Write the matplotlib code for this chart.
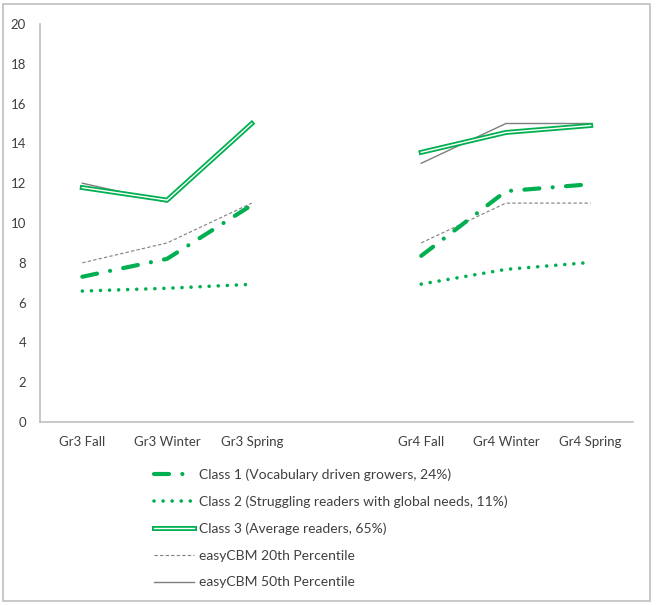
import matplotlib
matplotlib.use('Agg')
import matplotlib.pyplot as plt
import matplotlib.patheffects as pe
from matplotlib.patches import Rectangle

plt.rcParams['font.family'] = 'Lato'

# x categories (blank slot separates grade 3 and grade 4)
categories = ['Gr3 Fall', 'Gr3 Winter', 'Gr3 Spring', '', 'Gr4 Fall', 'Gr4 Winter', 'Gr4 Spring']
gr3_pos = [0, 1, 2]
gr4_pos = [4, 5, 6]

# series values: (grade 3, grade 4)
class1_gr3 = [7.3, 8.2, 10.9]
class1_gr4 = [8.35, 11.6, 11.95]
class2_gr3 = [6.58, 6.72, 6.92]
class2_gr4 = [6.93, 7.67, 8.02]
class3_gr3 = [11.78, 11.15, 15.0]
class3_gr4 = [13.55, 14.55, 14.9]
p20_gr3 = [8.0, 9.0, 11.0]
p20_gr4 = [9.0, 11.0, 11.0]
p50_gr3 = [12.0, 11.05, 15.0]
p50_gr4 = [13.0, 15.0, 15.0]

labels = ['Class 1 (Vocabulary driven growers, 24%)',
          'Class 2 (Struggling readers with global needs, 11%)',
          'Class 3 (Average readers, 65%)',
          'easyCBM 20th Percentile',
          'easyCBM 50th Percentile']

green = '#00B050'
gray = '#7f7f7f'

fig = plt.figure(figsize=(6.57, 6.05), dpi=100)
fig.patches.append(Rectangle((3 / 657, 4 / 605), 647 / 657, 597 / 605,
                             transform=fig.transFigure, fill=False,
                             edgecolor='#bfbfbf', linewidth=1.2))
ax = fig.add_axes([40 / 657, 1 - 422 / 605, 593 / 657, 398 / 605])

handles = []
for i, (xs, c1, c2, c3, a, b) in enumerate([
        (gr3_pos, class1_gr3, class2_gr3, class3_gr3, p20_gr3, p50_gr3),
        (gr4_pos, class1_gr4, class2_gr4, class3_gr4, p20_gr4, p50_gr4)]):
    h50, = ax.plot(xs, b, color=gray, lw=1.0)
    h20, = ax.plot(xs, a, color=gray, lw=0.8, linestyle=(0, (3, 2)))
    h3, = ax.plot(xs, c3, color='white', lw=1.0,
                  path_effects=[pe.Stroke(linewidth=3.6, foreground=green), pe.Normal()])
    h2, = ax.plot(xs, c2, color=green, lw=2.6, linestyle=(0, (0.01, 2.5)),
                  dash_capstyle='round')
    h1, = ax.plot(xs, c1, color=green, lw=3.0, linestyle=(0, (3.6, 3.2, 0.01, 3.2)),
                  dash_capstyle='round')
    if i == 0:
        handles = [h1, h2, h3, h20, h50]

ax.set_xlim(-0.5, 6.5)
ax.set_ylim(0, 20)
ax.set_yticks(range(0, 21, 2))
ax.set_xticks(range(len(categories)))
ax.set_xticklabels(categories)
ax.tick_params(length=0, labelsize=9.5, labelcolor='#404040')
ax.tick_params(axis='y', pad=10)
ax.tick_params(axis='x', pad=10)
for s in ['top', 'right']:
    ax.spines[s].set_visible(False)
for s in ['left', 'bottom']:
    ax.spines[s].set_color('#bfbfbf')
    ax.spines[s].set_linewidth(1.2)

fig.legend(handles, labels, loc='upper left', bbox_to_anchor=(141 / 657, 1 - 456 / 605),
           frameon=False, fontsize=10, handlelength=2.9, handletextpad=0.35,
           labelspacing=1.05, labelcolor='#404040')

fig.savefig('out.png', dpi=100)
